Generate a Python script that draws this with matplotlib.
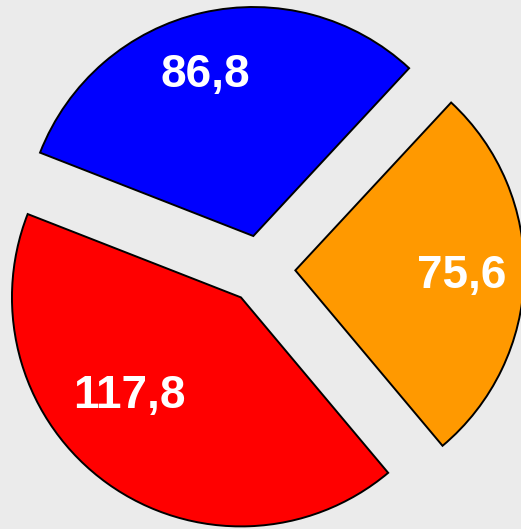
import matplotlib
matplotlib.use("Agg")
import matplotlib.pyplot as plt
import numpy as np

# slice values (order: counterclockwise from startangle)
values = [75.6, 86.8, 117.8]
colors = ["#ff9900", "#0000ff", "#ff0000"]
# where each value label sits (data coords, radius = 1)
label_pos = [(0.878, -0.027), (-0.242, 0.850), (-0.576, -0.551)]

BG = "#ebebeb"

fig = plt.figure(figsize=(5.21, 5.29), dpi=100, facecolor=BG)
ax = fig.add_axes([0, 0, 1, 1])
ax.set_facecolor(BG)

fmt = lambda v: f"{v:.1f}".replace(".", ",")

wedges, texts = ax.pie(values, colors=colors, startangle=-50, counterclock=True,
                       explode=[0.15] * len(values), radius=1,
                       labels=[fmt(v) for v in values], labeldistance=0.8,
                       wedgeprops=dict(edgecolor="black", linewidth=1.4))

for t, p in zip(texts, label_pos):
    t.set_position(p)
    t.set_ha("center")
    t.set_va("center")
    t.set_color("white")
    t.set_fontsize(33)
    t.set_fontweight("bold")
    t.set_family("Liberation Sans")

ax.set_xlim(-1.1397, 1.1354)
ax.set_ylim(-1.1332, 1.1769)
ax.set_aspect("auto")
ax.axis("off")

fig.savefig("out.png", dpi=100, facecolor=BG)
